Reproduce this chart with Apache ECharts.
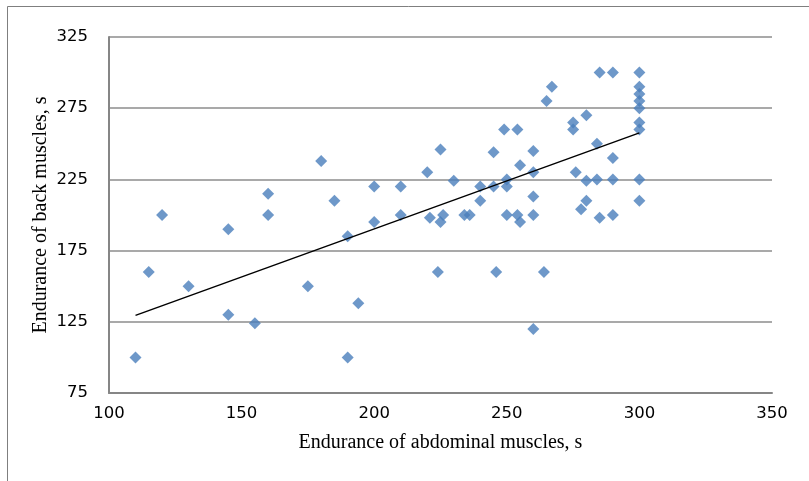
<!DOCTYPE html>
<html>
<head>
<meta charset="utf-8">
<script src="https://cdn.jsdelivr.net/npm/echarts@6/dist/echarts.min.js"></script>
<style>
  html, body { margin: 0; padding: 0; background: #fff; }
  #chart { width: 809px; height: 481px; }
</style>
</head>
<body>
<div id="chart"></div>
<script>
// abdominal endurance (s) vs back endurance (s)
const abdominal = [110, 115, 120, 130, 145, 145, 155, 160, 160, 175, 180, 185, 190, 190, 194,
  200, 200, 210, 210, 220, 221, 224, 225, 225, 226, 230, 234, 236, 240, 240,
  245, 245, 246, 249, 250, 250, 250, 254, 254, 255, 255, 260, 260, 260, 260, 260,
  264, 265, 267, 275, 275, 276, 278, 280, 280, 280, 284, 284, 285, 285,
  290, 290, 290, 290, 300, 300, 300, 300, 300, 300, 300, 300, 300]
const back = [100, 160, 200, 150, 190, 130, 124, 215, 200, 150, 238, 210, 185, 100, 138,
  220, 195, 220, 200, 230, 198, 160, 246, 195, 200, 224, 200, 200, 220, 210,
  244, 220, 160, 260, 225, 220, 200, 260, 200, 235, 195, 245, 230, 213, 200, 120,
  160, 280, 290, 265, 260, 230, 204, 270, 224, 210, 250, 225, 300, 198,
  300, 240, 225, 200, 300, 290, 285, 280, 275, 265, 260, 225, 210]

// linear trend end points
const trendX = [110, 300]
const trendY = [129.5, 257.7]

const chart = echarts.init(document.getElementById('chart'))

const axisLabelFont = { color: '#000', fontSize: 16.5, fontFamily: 'DejaVu Sans' }
const titleFont = { color: '#000', fontSize: 20, fontFamily: 'Liberation Serif' }

chart.setOption({
  backgroundColor: '#fff',
  animation: false,
  graphic: [{
    type: 'rect',
    shape: { x: 7.5, y: 6.5, width: 820, height: 490 },
    style: { fill: 'none', stroke: '#7f7f7f', lineWidth: 1 }
  }],
  grid: { left: 109, right: 37, top: 37, bottom: 88 },
  xAxis: {
    type: 'value',
    min: 100, max: 350, interval: 50,
    name: 'Endurance of abdominal muscles, s',
    nameLocation: 'middle',
    nameGap: 40,
    nameTextStyle: titleFont,
    axisLine: { show: true, lineStyle: { color: '#868686', width: 2 } },
    axisTick: { show: false },
    axisLabel: Object.assign({ margin: 12 }, axisLabelFont),
    splitLine: { show: false }
  },
  yAxis: {
    type: 'value',
    min: 75, max: 325, interval: 50,
    name: 'Endurance of back muscles, s',
    nameLocation: 'middle',
    nameMoveOverlap: false,
    nameGap: 58,
    nameTextStyle: titleFont,
    axisLine: { show: true, lineStyle: { color: '#868686', width: 2 } },
    axisTick: { show: false },
    axisLabel: Object.assign({ margin: 21 }, axisLabelFont),
    splitLine: { show: true, lineStyle: { color: '#8c8c8c', width: 1.5 } }
  },
  series: [
    {
      type: 'scatter',
      symbol: 'diamond',
      symbolSize: 12,
      itemStyle: { color: '#4a7ebb' },
      data: abdominal.map((x, i) => [x, back[i]]),
      z: 2
    },
    {
      type: 'line',
      symbol: 'none',
      lineStyle: { color: '#000', width: 1.5 },
      data: trendX.map((x, i) => [x, trendY[i]]),
      z: 3
    }
  ]
})
</script>
</body>
</html>
